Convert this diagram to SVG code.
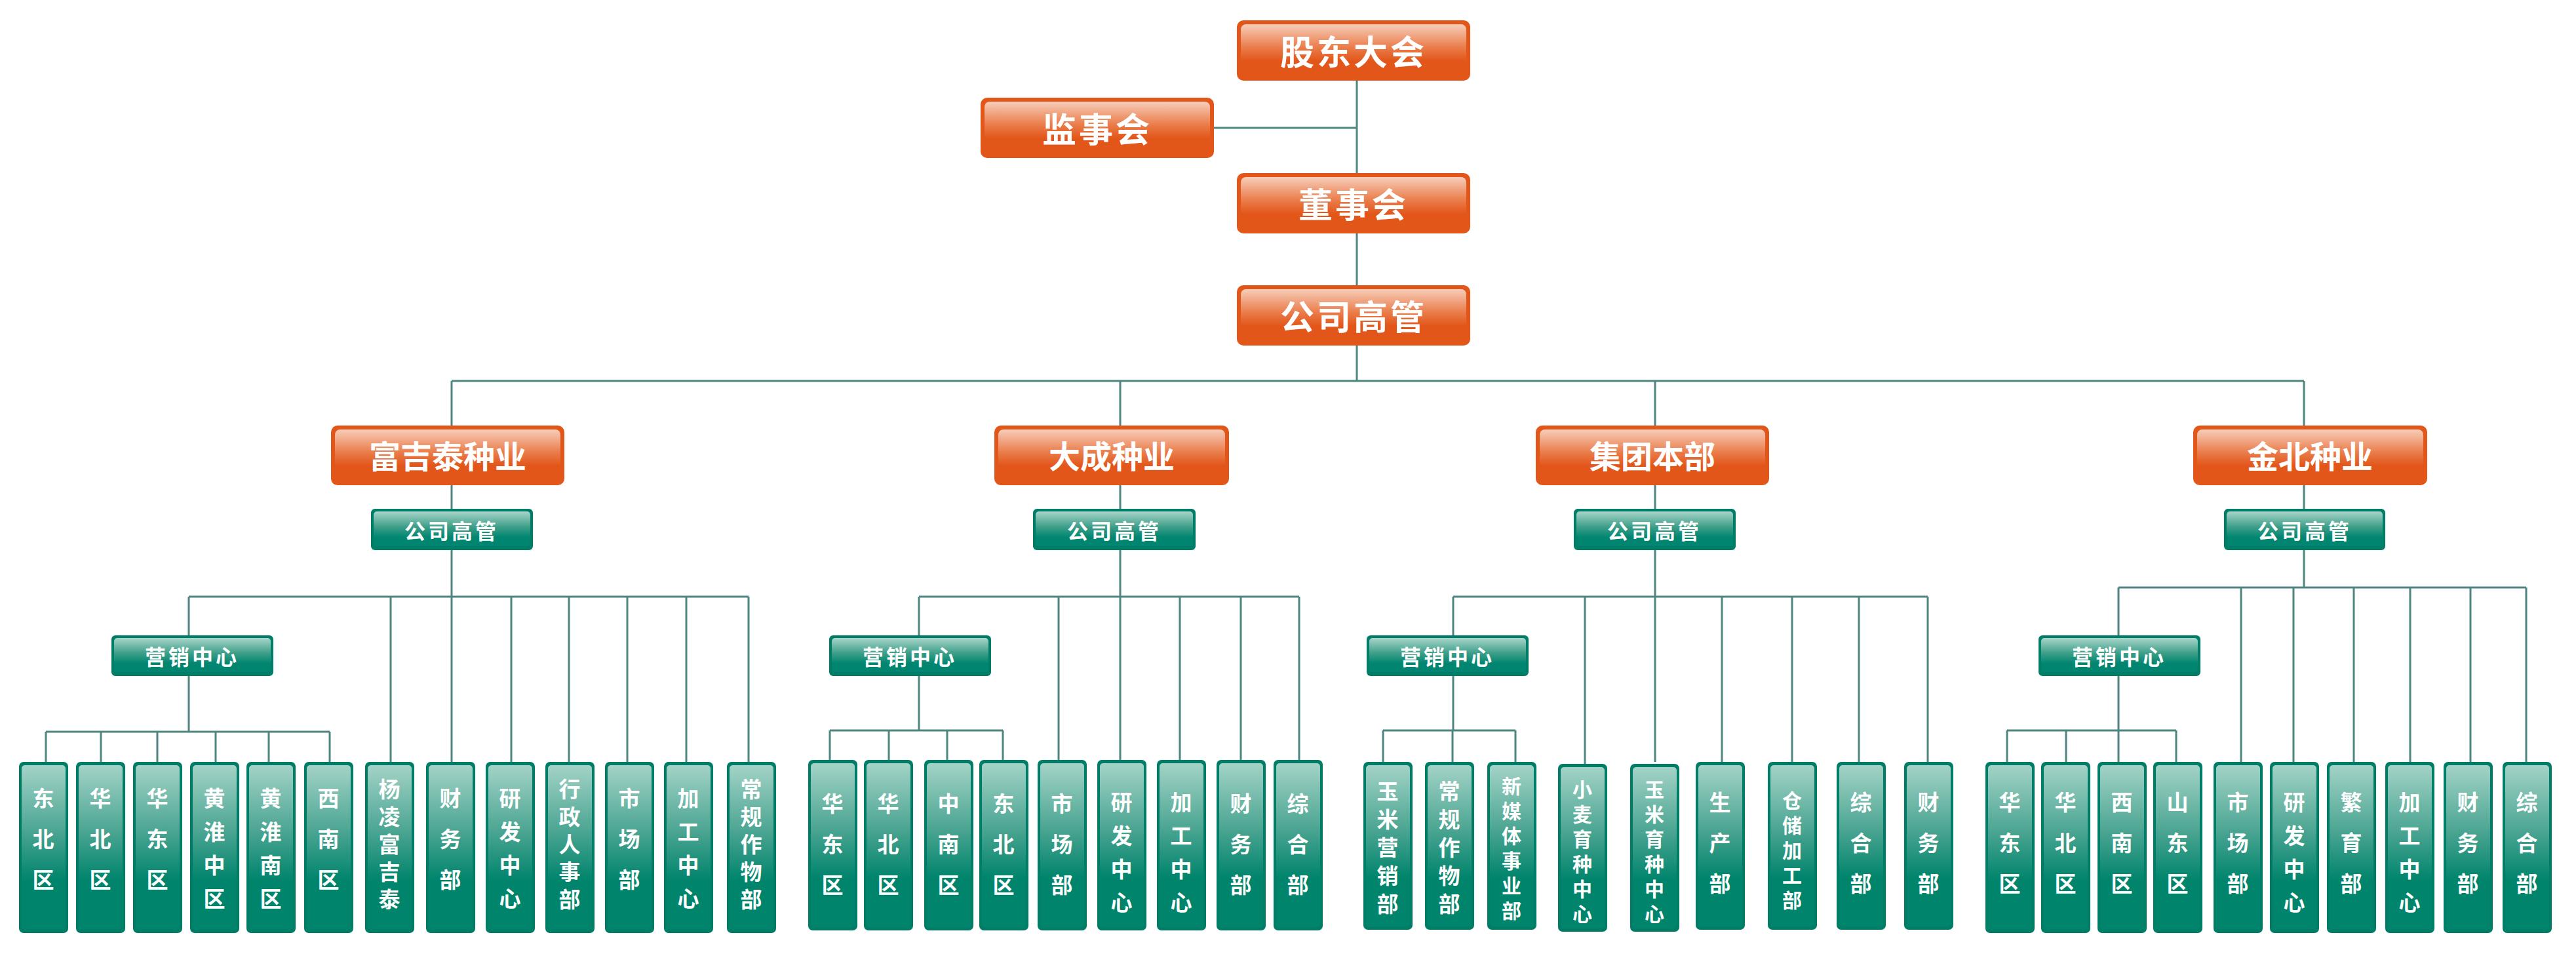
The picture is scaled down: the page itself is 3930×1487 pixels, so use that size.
<svg xmlns="http://www.w3.org/2000/svg" width="3930" height="1487" viewBox="0 0 3930 1487">
<defs>
<linearGradient id="og" x1="0" y1="0" x2="0" y2="1"><stop offset="0" stop-color="#F7CDB9"/><stop offset="0.45" stop-color="#EA7D4B"/><stop offset="0.72" stop-color="#E2561A"/><stop offset="1" stop-color="#E2561A"/></linearGradient>
<linearGradient id="gg" x1="0" y1="0" x2="0" y2="1"><stop offset="0" stop-color="#A8D5CA"/><stop offset="0.45" stop-color="#3C9E88"/><stop offset="0.75" stop-color="#008570"/><stop offset="1" stop-color="#008570"/></linearGradient>
<linearGradient id="lg" x1="0" y1="0" x2="0" y2="1"><stop offset="0" stop-color="#A3D3C7"/><stop offset="0.4" stop-color="#4BA592"/><stop offset="0.7" stop-color="#00846C"/><stop offset="1" stop-color="#00846C"/></linearGradient>
</defs>
<style>
.o{fill:#E2561A}.oi{fill:url(#og)}
.g{fill:#007D66}.gi{fill:url(#gg)}
.l{fill:#007D66}.li{fill:url(#lg)}
text{font-family:"Noto Sans CJK SC",sans-serif;font-weight:bold;fill:#fff;text-anchor:middle;dominant-baseline:central}
.t1{font-size:52px;letter-spacing:4px}.t2{font-size:48px}.t3{font-size:32px;letter-spacing:4px}.t4{font-size:33px}.t5{font-size:30px}
#conn path{fill:none;stroke:#4E8580;stroke-width:3}
</style>
<rect width="3930" height="1487" fill="#fff"/>
<g id="conn">
<path d="M2070 123V581M1852 195H2070M689 581H3515M689 581V1162M1709 581V1159M2525 581V1162M3515 581V896"/>
<path d="M288 910H1142M288 910V969M288 1031V1116M70 1116H503M70 1116V1162M154 1116V1162M240 1116V1162M329 1116V1162M410 1116V1162M503 1116V1162M596 910V1162M780 910V1162M868 910V1162M957 910V1162M1047 910V1162M1142 910V1162"/>
<path d="M1402 910H1982M1402 910V969M1402 1031V1114M1266 1114H1530M1266 1114V1159M1356 1114V1159M1445 1114V1159M1530 1114V1159M1615 910V1159M1800 910V1159M1893 910V1159M1982 910V1159"/>
<path d="M2217 910H2941M2217 910V969M2217 1031V1114M2110 1114H2312M2110 1114V1162M2216 1114V1162M2312 1114V1162M2418 910V1165M2627 910V1162M2734 910V1162M2836 910V1162M2941 910V1162"/>
<path d="M3232 896H3854M3232 896V969M3232 1031V1114M3062 1114H3320M3062 1114V1162M3152 1114V1162M3232 1114V1162M3320 1114V1162M3419 896V1162M3499 896V1162M3591 896V1162M3677 896V1162M3769 896V1162M3854 896V1162"/>
</g>
<g id="n-gd"><rect class="o" x="1887" y="31" width="356" height="92" rx="10"/><rect class="oi" x="1893" y="37" width="344" height="78" rx="8"/><text class="t1" x="2065" y="76">股东大会</text></g>
<g id="n-js"><rect class="o" x="1496" y="149" width="356" height="92" rx="10"/><rect class="oi" x="1502" y="155" width="344" height="78" rx="8"/><text class="t1" x="1674" y="194">监事会</text></g>
<g id="n-ds"><rect class="o" x="1887" y="264" width="356" height="92" rx="10"/><rect class="oi" x="1893" y="270" width="344" height="78" rx="8"/><text class="t1" x="2065" y="309">董事会</text></g>
<g id="n-gg"><rect class="o" x="1887" y="435" width="356" height="92" rx="10"/><rect class="oi" x="1893" y="441" width="344" height="78" rx="8"/><text class="t1" x="2065" y="480">公司高管</text></g>
<g id="n-b1"><rect class="o" x="505" y="649" width="356" height="91" rx="10"/><rect class="oi" x="511" y="655" width="344" height="77" rx="8"/><text class="t2" x="683" y="693">富吉泰种业</text></g>
<g id="n-b2"><rect class="o" x="1517" y="649" width="358" height="91" rx="10"/><rect class="oi" x="1523" y="655" width="346" height="77" rx="8"/><text class="t2" x="1696" y="693">大成种业</text></g>
<g id="n-b3"><rect class="o" x="2343" y="649" width="356" height="91" rx="10"/><rect class="oi" x="2349" y="655" width="344" height="77" rx="8"/><text class="t2" x="2521" y="693">集团本部</text></g>
<g id="n-b4"><rect class="o" x="3346" y="649" width="357" height="91" rx="10"/><rect class="oi" x="3352" y="655" width="345" height="77" rx="8"/><text class="t2" x="3524" y="693">金北种业</text></g>
<g id="n-g1"><rect class="g" x="566" y="776" width="247" height="63" rx="6"/><rect class="gi" x="570" y="780" width="239" height="53" rx="5"/><text class="t3" x="689" y="808">公司高管</text></g>
<g id="n-g2"><rect class="g" x="1576" y="776" width="248" height="63" rx="6"/><rect class="gi" x="1580" y="780" width="240" height="53" rx="5"/><text class="t3" x="1700" y="808">公司高管</text></g>
<g id="n-g3"><rect class="g" x="2401" y="776" width="247" height="63" rx="6"/><rect class="gi" x="2405" y="780" width="239" height="53" rx="5"/><text class="t3" x="2524" y="808">公司高管</text></g>
<g id="n-g4"><rect class="g" x="3393" y="776" width="246" height="63" rx="6"/><rect class="gi" x="3397" y="780" width="238" height="53" rx="5"/><text class="t3" x="3516" y="808">公司高管</text></g>
<g id="n-m1"><rect class="g" x="170" y="969" width="247" height="62" rx="6"/><rect class="gi" x="174" y="973" width="239" height="52" rx="5"/><text class="t3" x="293" y="1000">营销中心</text></g>
<g id="n-m2"><rect class="g" x="1265" y="969" width="247" height="62" rx="6"/><rect class="gi" x="1269" y="973" width="239" height="52" rx="5"/><text class="t3" x="1388" y="1000">营销中心</text></g>
<g id="n-m3"><rect class="g" x="2085" y="969" width="247" height="62" rx="6"/><rect class="gi" x="2089" y="973" width="239" height="52" rx="5"/><text class="t3" x="2208" y="1000">营销中心</text></g>
<g id="n-m4"><rect class="g" x="3110" y="969" width="247" height="62" rx="6"/><rect class="gi" x="3114" y="973" width="239" height="52" rx="5"/><text class="t3" x="3233" y="1000">营销中心</text></g>
<g id="leaves1">
<g id="l1-1"><rect class="l" x="29" y="1162" width="75" height="261" rx="7"/><rect class="li" x="33" y="1167" width="67" height="251" rx="5"/><text class="t4"><tspan x="66" y="1216">东</tspan><tspan x="66" dy="62">北</tspan><tspan x="66" dy="62">区</tspan></text></g>
<g id="l1-2"><rect class="l" x="116" y="1162" width="75" height="261" rx="7"/><rect class="li" x="120" y="1167" width="67" height="251" rx="5"/><text class="t4"><tspan x="153" y="1216">华</tspan><tspan x="153" dy="62">北</tspan><tspan x="153" dy="62">区</tspan></text></g>
<g id="l1-3"><rect class="l" x="203" y="1162" width="75" height="261" rx="7"/><rect class="li" x="207" y="1167" width="67" height="251" rx="5"/><text class="t4"><tspan x="240" y="1216">华</tspan><tspan x="240" dy="62">东</tspan><tspan x="240" dy="62">区</tspan></text></g>
<g id="l1-4"><rect class="l" x="290" y="1162" width="75" height="261" rx="7"/><rect class="li" x="294" y="1167" width="67" height="251" rx="5"/><text class="t4"><tspan x="327" y="1216">黄</tspan><tspan x="327" dy="51">淮</tspan><tspan x="327" dy="51">中</tspan><tspan x="327" dy="51">区</tspan></text></g>
<g id="l1-5"><rect class="l" x="376" y="1162" width="75" height="261" rx="7"/><rect class="li" x="380" y="1167" width="67" height="251" rx="5"/><text class="t4"><tspan x="413" y="1216">黄</tspan><tspan x="413" dy="51">淮</tspan><tspan x="413" dy="51">南</tspan><tspan x="413" dy="51">区</tspan></text></g>
<g id="l1-6"><rect class="l" x="464" y="1162" width="75" height="261" rx="7"/><rect class="li" x="468" y="1167" width="67" height="251" rx="5"/><text class="t4"><tspan x="501" y="1216">西</tspan><tspan x="501" dy="62">南</tspan><tspan x="501" dy="62">区</tspan></text></g>
<g id="l1-7"><rect class="l" x="557" y="1162" width="75" height="261" rx="7"/><rect class="li" x="561" y="1167" width="67" height="251" rx="5"/><text class="t4"><tspan x="594" y="1202">杨</tspan><tspan x="594" dy="42">凌</tspan><tspan x="594" dy="42">富</tspan><tspan x="594" dy="42">吉</tspan><tspan x="594" dy="42">泰</tspan></text></g>
<g id="l1-8"><rect class="l" x="650" y="1162" width="75" height="261" rx="7"/><rect class="li" x="654" y="1167" width="67" height="251" rx="5"/><text class="t4"><tspan x="687" y="1216">财</tspan><tspan x="687" dy="62">务</tspan><tspan x="687" dy="62">部</tspan></text></g>
<g id="l1-9"><rect class="l" x="741" y="1162" width="75" height="261" rx="7"/><rect class="li" x="745" y="1167" width="67" height="251" rx="5"/><text class="t4"><tspan x="778" y="1216">研</tspan><tspan x="778" dy="51">发</tspan><tspan x="778" dy="51">中</tspan><tspan x="778" dy="51">心</tspan></text></g>
<g id="l1-10"><rect class="l" x="832" y="1162" width="75" height="261" rx="7"/><rect class="li" x="836" y="1167" width="67" height="251" rx="5"/><text class="t4"><tspan x="869" y="1202">行</tspan><tspan x="869" dy="42">政</tspan><tspan x="869" dy="42">人</tspan><tspan x="869" dy="42">事</tspan><tspan x="869" dy="42">部</tspan></text></g>
<g id="l1-11"><rect class="l" x="923" y="1162" width="75" height="261" rx="7"/><rect class="li" x="927" y="1167" width="67" height="251" rx="5"/><text class="t4"><tspan x="960" y="1216">市</tspan><tspan x="960" dy="62">场</tspan><tspan x="960" dy="62">部</tspan></text></g>
<g id="l1-12"><rect class="l" x="1013" y="1162" width="75" height="261" rx="7"/><rect class="li" x="1017" y="1167" width="67" height="251" rx="5"/><text class="t4"><tspan x="1050" y="1216">加</tspan><tspan x="1050" dy="51">工</tspan><tspan x="1050" dy="51">中</tspan><tspan x="1050" dy="51">心</tspan></text></g>
<g id="l1-13"><rect class="l" x="1109" y="1162" width="75" height="261" rx="7"/><rect class="li" x="1113" y="1167" width="67" height="251" rx="5"/><text class="t4"><tspan x="1146" y="1202">常</tspan><tspan x="1146" dy="42">规</tspan><tspan x="1146" dy="42">作</tspan><tspan x="1146" dy="42">物</tspan><tspan x="1146" dy="42">部</tspan></text></g>
</g>
<g id="leaves2">
<g id="l2-1"><rect class="l" x="1233" y="1159" width="75" height="260" rx="7"/><rect class="li" x="1237" y="1164" width="67" height="250" rx="5"/><text class="t4"><tspan x="1270" y="1224">华</tspan><tspan x="1270" dy="62">东</tspan><tspan x="1270" dy="62">区</tspan></text></g>
<g id="l2-2"><rect class="l" x="1318" y="1159" width="75" height="260" rx="7"/><rect class="li" x="1322" y="1164" width="67" height="250" rx="5"/><text class="t4"><tspan x="1355" y="1224">华</tspan><tspan x="1355" dy="62">北</tspan><tspan x="1355" dy="62">区</tspan></text></g>
<g id="l2-3"><rect class="l" x="1410" y="1159" width="75" height="260" rx="7"/><rect class="li" x="1414" y="1164" width="67" height="250" rx="5"/><text class="t4"><tspan x="1447" y="1224">中</tspan><tspan x="1447" dy="62">南</tspan><tspan x="1447" dy="62">区</tspan></text></g>
<g id="l2-4"><rect class="l" x="1494" y="1159" width="75" height="260" rx="7"/><rect class="li" x="1498" y="1164" width="67" height="250" rx="5"/><text class="t4"><tspan x="1531" y="1224">东</tspan><tspan x="1531" dy="62">北</tspan><tspan x="1531" dy="62">区</tspan></text></g>
<g id="l2-5"><rect class="l" x="1583" y="1159" width="75" height="260" rx="7"/><rect class="li" x="1587" y="1164" width="67" height="250" rx="5"/><text class="t4"><tspan x="1620" y="1224">市</tspan><tspan x="1620" dy="62">场</tspan><tspan x="1620" dy="62">部</tspan></text></g>
<g id="l2-6"><rect class="l" x="1674" y="1159" width="75" height="260" rx="7"/><rect class="li" x="1678" y="1164" width="67" height="250" rx="5"/><text class="t4"><tspan x="1711" y="1222">研</tspan><tspan x="1711" dy="51">发</tspan><tspan x="1711" dy="51">中</tspan><tspan x="1711" dy="51">心</tspan></text></g>
<g id="l2-7"><rect class="l" x="1765" y="1159" width="75" height="260" rx="7"/><rect class="li" x="1769" y="1164" width="67" height="250" rx="5"/><text class="t4"><tspan x="1802" y="1222">加</tspan><tspan x="1802" dy="51">工</tspan><tspan x="1802" dy="51">中</tspan><tspan x="1802" dy="51">心</tspan></text></g>
<g id="l2-8"><rect class="l" x="1856" y="1159" width="75" height="260" rx="7"/><rect class="li" x="1860" y="1164" width="67" height="250" rx="5"/><text class="t4"><tspan x="1893" y="1224">财</tspan><tspan x="1893" dy="62">务</tspan><tspan x="1893" dy="62">部</tspan></text></g>
<g id="l2-9"><rect class="l" x="1943" y="1159" width="75" height="260" rx="7"/><rect class="li" x="1947" y="1164" width="67" height="250" rx="5"/><text class="t4"><tspan x="1980" y="1224">综</tspan><tspan x="1980" dy="62">合</tspan><tspan x="1980" dy="62">部</tspan></text></g>
</g>
<g id="leaves3">
<g id="l3-1"><rect class="l" x="2080" y="1162" width="75" height="256" rx="7"/><rect class="li" x="2084" y="1167" width="67" height="246" rx="5"/><text class="t4"><tspan x="2117" y="1205">玉</tspan><tspan x="2117" dy="43">米</tspan><tspan x="2117" dy="43">营</tspan><tspan x="2117" dy="43">销</tspan><tspan x="2117" dy="43">部</tspan></text></g>
<g id="l3-2"><rect class="l" x="2174" y="1162" width="75" height="256" rx="7"/><rect class="li" x="2178" y="1167" width="67" height="246" rx="5"/><text class="t4"><tspan x="2211" y="1205">常</tspan><tspan x="2211" dy="43">规</tspan><tspan x="2211" dy="43">作</tspan><tspan x="2211" dy="43">物</tspan><tspan x="2211" dy="43">部</tspan></text></g>
<g id="l3-3"><rect class="l" x="2269" y="1162" width="75" height="256" rx="7"/><rect class="li" x="2273" y="1167" width="67" height="246" rx="5"/><text class="t5"><tspan x="2306" y="1197">新</tspan><tspan x="2306" dy="38">媒</tspan><tspan x="2306" dy="38">体</tspan><tspan x="2306" dy="38">事</tspan><tspan x="2306" dy="38">业</tspan><tspan x="2306" dy="38">部</tspan></text></g>
<g id="l3-4"><rect class="l" x="2377" y="1165" width="75" height="256" rx="7"/><rect class="li" x="2381" y="1170" width="67" height="246" rx="5"/><text class="t5"><tspan x="2414" y="1202">小</tspan><tspan x="2414" dy="38">麦</tspan><tspan x="2414" dy="38">育</tspan><tspan x="2414" dy="38">种</tspan><tspan x="2414" dy="38">中</tspan><tspan x="2414" dy="38">心</tspan></text></g>
<g id="l3-5"><rect class="l" x="2487" y="1165" width="75" height="256" rx="7"/><rect class="li" x="2491" y="1170" width="67" height="246" rx="5"/><text class="t5"><tspan x="2524" y="1202">玉</tspan><tspan x="2524" dy="38">米</tspan><tspan x="2524" dy="38">育</tspan><tspan x="2524" dy="38">种</tspan><tspan x="2524" dy="38">中</tspan><tspan x="2524" dy="38">心</tspan></text></g>
<g id="l3-6"><rect class="l" x="2587" y="1162" width="75" height="256" rx="7"/><rect class="li" x="2591" y="1167" width="67" height="246" rx="5"/><text class="t4"><tspan x="2624" y="1222">生</tspan><tspan x="2624" dy="62">产</tspan><tspan x="2624" dy="62">部</tspan></text></g>
<g id="l3-7"><rect class="l" x="2697" y="1162" width="75" height="256" rx="7"/><rect class="li" x="2701" y="1167" width="67" height="246" rx="5"/><text class="t5"><tspan x="2734" y="1219">仓</tspan><tspan x="2734" dy="38">储</tspan><tspan x="2734" dy="38">加</tspan><tspan x="2734" dy="38">工</tspan><tspan x="2734" dy="38">部</tspan></text></g>
<g id="l3-8"><rect class="l" x="2802" y="1162" width="75" height="256" rx="7"/><rect class="li" x="2806" y="1167" width="67" height="246" rx="5"/><text class="t4"><tspan x="2839" y="1222">综</tspan><tspan x="2839" dy="62">合</tspan><tspan x="2839" dy="62">部</tspan></text></g>
<g id="l3-9"><rect class="l" x="2905" y="1162" width="75" height="256" rx="7"/><rect class="li" x="2909" y="1167" width="67" height="246" rx="5"/><text class="t4"><tspan x="2942" y="1222">财</tspan><tspan x="2942" dy="62">务</tspan><tspan x="2942" dy="62">部</tspan></text></g>
</g>
<g id="leaves4">
<g id="l4-1"><rect class="l" x="3029" y="1162" width="75" height="261" rx="7"/><rect class="li" x="3033" y="1167" width="67" height="251" rx="5"/><text class="t4"><tspan x="3066" y="1222">华</tspan><tspan x="3066" dy="62">东</tspan><tspan x="3066" dy="62">区</tspan></text></g>
<g id="l4-2"><rect class="l" x="3114" y="1162" width="75" height="261" rx="7"/><rect class="li" x="3118" y="1167" width="67" height="251" rx="5"/><text class="t4"><tspan x="3151" y="1222">华</tspan><tspan x="3151" dy="62">北</tspan><tspan x="3151" dy="62">区</tspan></text></g>
<g id="l4-3"><rect class="l" x="3200" y="1162" width="75" height="261" rx="7"/><rect class="li" x="3204" y="1167" width="67" height="251" rx="5"/><text class="t4"><tspan x="3237" y="1222">西</tspan><tspan x="3237" dy="62">南</tspan><tspan x="3237" dy="62">区</tspan></text></g>
<g id="l4-4"><rect class="l" x="3285" y="1162" width="75" height="261" rx="7"/><rect class="li" x="3289" y="1167" width="67" height="251" rx="5"/><text class="t4"><tspan x="3322" y="1222">山</tspan><tspan x="3322" dy="62">东</tspan><tspan x="3322" dy="62">区</tspan></text></g>
<g id="l4-5"><rect class="l" x="3377" y="1162" width="75" height="261" rx="7"/><rect class="li" x="3381" y="1167" width="67" height="251" rx="5"/><text class="t4"><tspan x="3414" y="1222">市</tspan><tspan x="3414" dy="62">场</tspan><tspan x="3414" dy="62">部</tspan></text></g>
<g id="l4-6"><rect class="l" x="3463" y="1162" width="75" height="261" rx="7"/><rect class="li" x="3467" y="1167" width="67" height="251" rx="5"/><text class="t4"><tspan x="3500" y="1222">研</tspan><tspan x="3500" dy="51">发</tspan><tspan x="3500" dy="51">中</tspan><tspan x="3500" dy="51">心</tspan></text></g>
<g id="l4-7"><rect class="l" x="3550" y="1162" width="75" height="261" rx="7"/><rect class="li" x="3554" y="1167" width="67" height="251" rx="5"/><text class="t4"><tspan x="3587" y="1222">繁</tspan><tspan x="3587" dy="62">育</tspan><tspan x="3587" dy="62">部</tspan></text></g>
<g id="l4-8"><rect class="l" x="3639" y="1162" width="75" height="261" rx="7"/><rect class="li" x="3643" y="1167" width="67" height="251" rx="5"/><text class="t4"><tspan x="3676" y="1222">加</tspan><tspan x="3676" dy="51">工</tspan><tspan x="3676" dy="51">中</tspan><tspan x="3676" dy="51">心</tspan></text></g>
<g id="l4-9"><rect class="l" x="3728" y="1162" width="75" height="261" rx="7"/><rect class="li" x="3732" y="1167" width="67" height="251" rx="5"/><text class="t4"><tspan x="3765" y="1222">财</tspan><tspan x="3765" dy="62">务</tspan><tspan x="3765" dy="62">部</tspan></text></g>
<g id="l4-10"><rect class="l" x="3818" y="1162" width="75" height="261" rx="7"/><rect class="li" x="3822" y="1167" width="67" height="251" rx="5"/><text class="t4"><tspan x="3855" y="1222">综</tspan><tspan x="3855" dy="62">合</tspan><tspan x="3855" dy="62">部</tspan></text></g>
</g>
</svg>
